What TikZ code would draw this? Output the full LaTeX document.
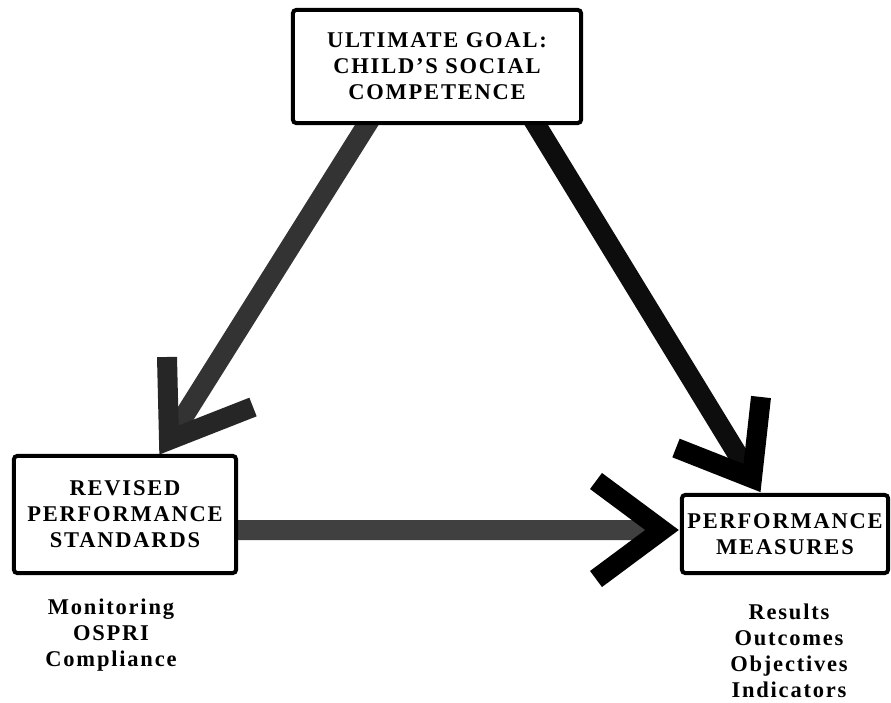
\documentclass[tikz,border=0pt]{standalone}
\usepackage{fontspec}
\setmainfont{Liberation Serif}
\newfontfamily\boxfont[LetterSpace=8.0,Ligatures=TeX]{Liberation Serif}
\usetikzlibrary{positioning,calc,backgrounds}

\begin{document}
\begin{tikzpicture}[x=0.025cm,y=-0.025cm,
  txt/.style={font=\boxfont\bfseries\fontsize{16}{18.5}\selectfont,align=center,inner sep=0pt},
  stage/.style={txt,draw=black,line width=1mm,fill=white,rounded corners=0.8mm},
  shaft/.style={line width=5mm,line cap=butt},
  barb/.style={line width=5mm,line cap=butt,line join=miter}]
\useasboundingbox (0,0) rectangle (891,702);
% the three stages
\node[stage,minimum width=7.2cm,minimum height=2.825cm] (goal) at (437,66.5) {ULTIMATE GOAL:\\CHILD’S SOCIAL\\COMPETENCE};
\node[stage,minimum width=5.55cm,minimum height=2.925cm] (standards) at (125,514.5) {REVISED\\PERFORMANCE\\STANDARDS};
\node[stage,minimum width=5.15cm,minimum height=1.95cm] (measures) at (785,534) {PERFORMANCE\\MEASURES};
% notes under the boxes
\node[txt] (monitor) at (111,635) {Monitoring\\OSPRI\\Compliance};
\node[txt] (results) at (789,651) {Results\\Outcomes\\Objectives\\Indicators};
% arrow heads
\coordinate (tipA) at (169,440);
\coordinate (barbA1) at (167,357);
\coordinate (barbA2) at (253,407);
\coordinate (tipB) at (752,478);
\coordinate (barbB1) at (761,397);
\coordinate (barbB2) at (676,448);
\coordinate (tipC) at (662,530);
\coordinate (barbC1) at (596,481);
\coordinate (barbC2) at (596,579);
\begin{scope}[on background layer]
\draw[shaft,black!80] ($(goal.south)+(-64,-10)$) -- (tipA);
\draw[barb,black!85] (barbA1) -- (tipA) -- (barbA2);
\draw[shaft,black!95] ($(goal.south)+(95,-7)$) -- (tipB);
\draw[barb,black] (barbB1) -- (tipB) -- (barbB2);
\draw[shaft,black!75] ($(standards.east)+(-10,15.5)$) -- (tipC);
\draw[barb,black] (barbC1) -- (tipC) -- (barbC2);
\end{scope}
\end{tikzpicture}
\end{document}
